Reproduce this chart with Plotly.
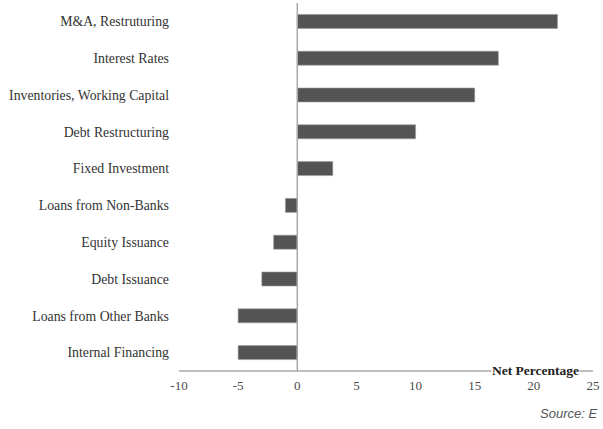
import plotly.graph_objects as go

categories = ["M&A, Restruturing", "Interest Rates", "Inventories, Working Capital",
              "Debt Restructuring", "Fixed Investment", "Loans from Non-Banks",
              "Equity Issuance", "Debt Issuance", "Loans from Other Banks", "Internal Financing"]
values = [22, 17, 15, 10, 3, -1, -2, -3, -5, -5]
x_ticks = [-10, -5, 0, 5, 10, 15, 20, 25]

serif = "Liberation Serif"

fig = go.Figure(go.Bar(
    x=values, y=categories, orientation="h",
    marker=dict(color="#545454", line=dict(color="#9a9a9a", width=0.6)),
    hoverinfo="x+y",
))

fig.update_layout(
    width=603, height=429,
    margin=dict(l=179, r=10, t=3, b=58, autoexpand=False),
    paper_bgcolor="white", plot_bgcolor="white",
    bargap=0.62,
    showlegend=False,
    xaxis=dict(range=[-10, 25], tickvals=x_ticks, ticktext=[str(t) for t in x_ticks],
               showgrid=False, zeroline=False, showline=False, ticks="", automargin=False,
               tickfont=dict(family=serif, size=13, color="#4a4a4a"),
               ticklabelstandoff=5),
    yaxis=dict(categoryorder="array", categoryarray=categories[::-1],
               showgrid=False, zeroline=False, showline=False, ticks="", automargin=False,
               tickfont=dict(family=serif, size=13.8, color="#333333"),
               ticklabelstandoff=9),
    shapes=[
        dict(type="line", xref="x", yref="paper", x0=-10, x1=25, y0=0, y1=0,
             line=dict(color="#a8a8a8", width=1.5)),
        dict(type="line", xref="x", yref="paper", x0=0, x1=0, y0=0, y1=1.0,
             line=dict(color="#a8a8a8", width=1.5)),
    ],
    annotations=[
        dict(text="<b>Net Percentage</b>", xref="x", yref="paper", x=20.15, y=0,
             xanchor="center", yanchor="middle", showarrow=False,
             bgcolor="white", borderpad=0, yshift=1,
             font=dict(family=serif, size=13.5, color="#222222")),
        dict(text="<i>Source: E</i>", xref="paper", yref="paper", x=0.867, y=-0.115,
             xanchor="left", yanchor="middle", showarrow=False,
             font=dict(family="Liberation Sans", size=13, color="#555555")),
    ],
)

fig.write_html("out.html", config={"displayModeBar": False},
               post_script="document.body.style.margin='0';document.body.style.overflow='hidden';")
